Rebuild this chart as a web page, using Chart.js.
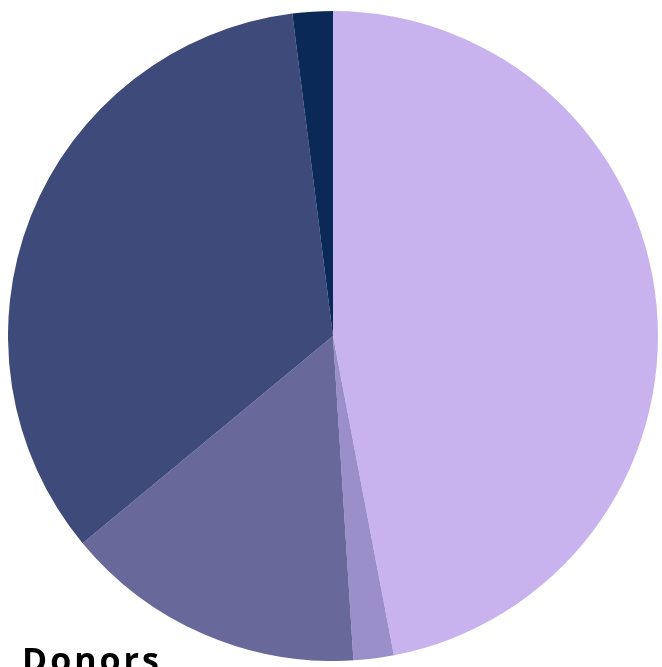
<!DOCTYPE html>
<html>
<head>
<meta charset="utf-8">
<script src="https://cdn.jsdelivr.net/npm/chart.js@4.4.0/dist/chart.umd.min.js"></script>
<style>
  html, body { margin: 0; padding: 0; background: #fff; overflow: hidden; width: 662px; height: 667px; }
  #wrap { position: absolute; left: 8px; top: 11px; width: 650px; height: 650px; }
  #title {
    position: absolute; left: 22px; top: 642px;
    font-family: "Open Sans", sans-serif; font-weight: 700; font-size: 34px;
    line-height: 34px; letter-spacing: 3px; color: #000; white-space: nowrap;
  }
</style>
</head>
<body>
<div id="wrap"><canvas id="myChart"></canvas></div>
<div id="title">Donors</div>
<script>
// donor groups, clockwise from 12 o'clock
const labels = ["Group 1", "Group 2", "Group 3", "Group 4", "Group 5"];
const shares = [47, 2, 15, 34, 2];
const colors = ["#c9b3ee", "#9a8fc9", "#68689a", "#3d4a7a", "#0b2957"];

const ctx = document.getElementById("myChart").getContext("2d");
new Chart(ctx, {
  type: "pie",
  data: {
    labels: labels,
    datasets: [{
      data: shares,
      backgroundColor: colors,
      borderWidth: 0,
      hoverOffset: 0
    }]
  },
  options: {
    responsive: true,
    maintainAspectRatio: false,
    animation: false,
    layout: { padding: 0 },
    plugins: {
      legend: { display: false },
      tooltip: { enabled: false }
    }
  }
});
</script>
</body>
</html>
